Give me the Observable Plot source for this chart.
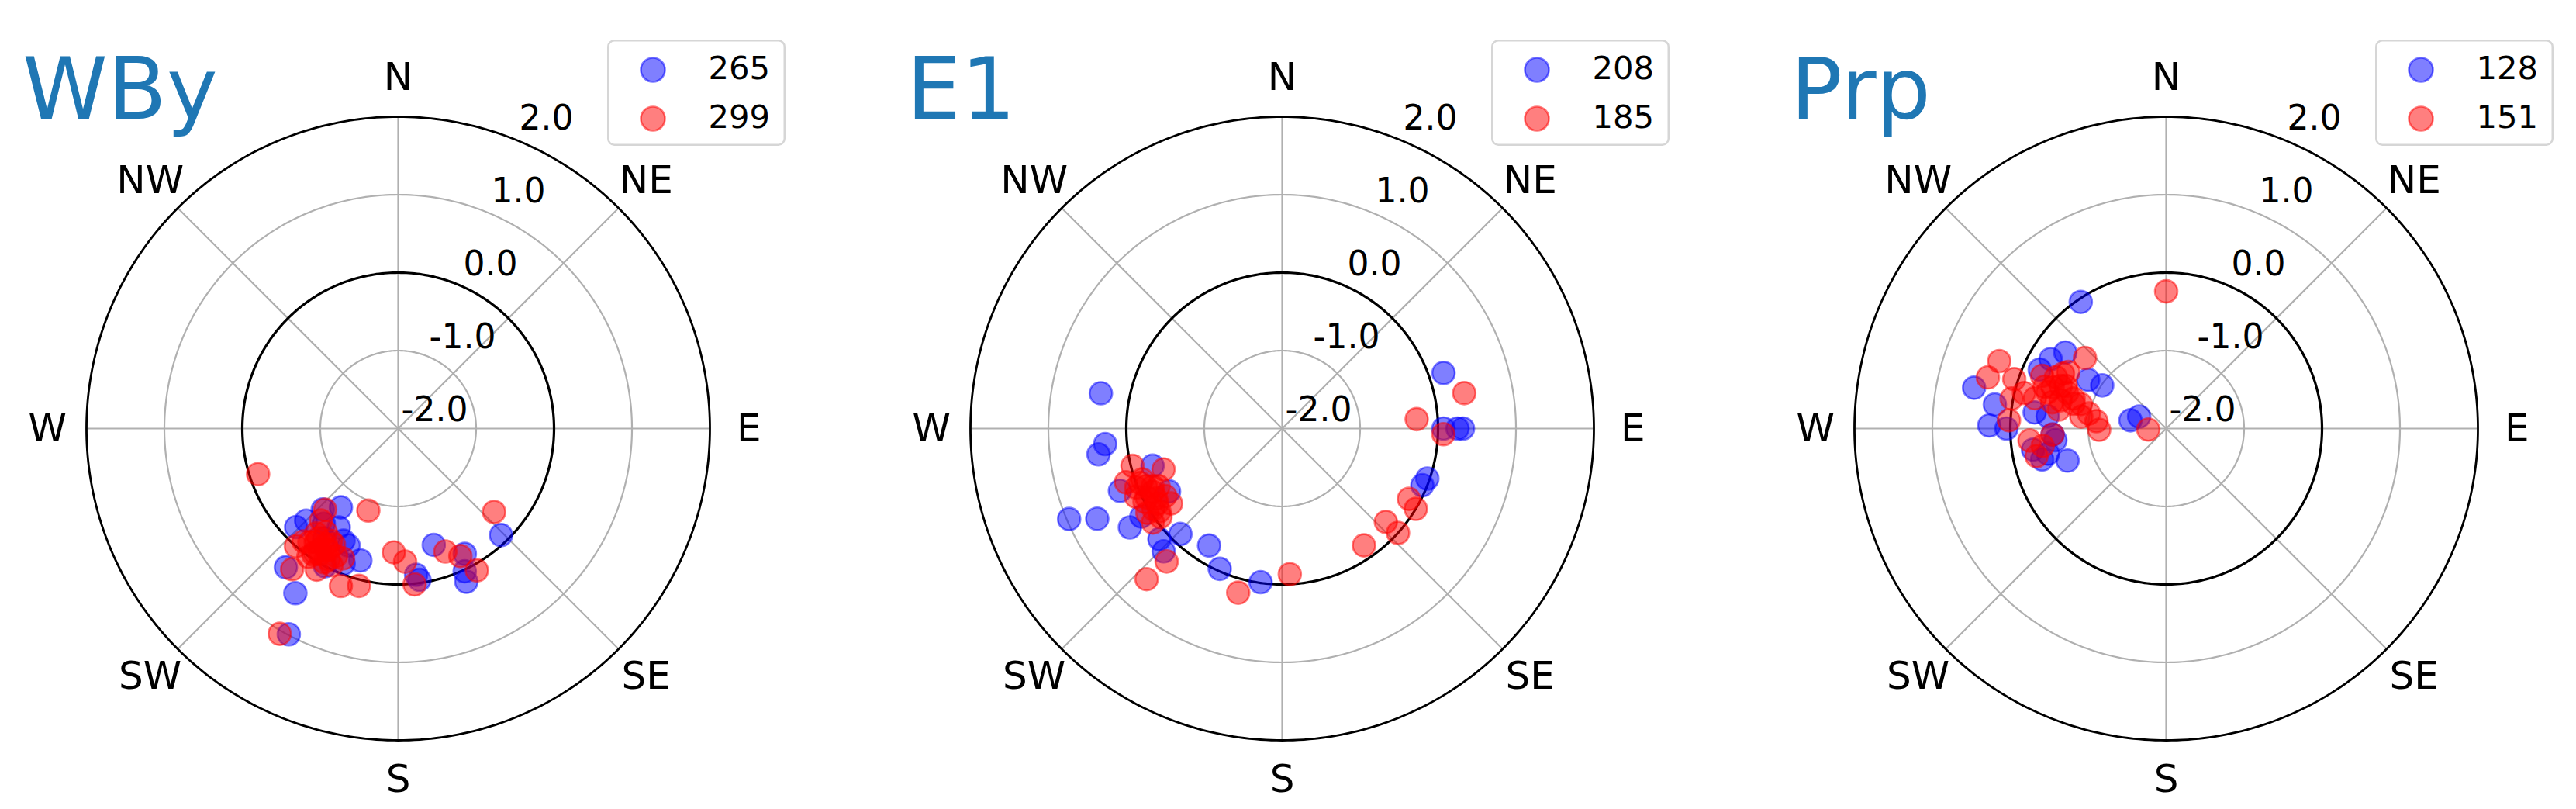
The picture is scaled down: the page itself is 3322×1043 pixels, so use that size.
<!DOCTYPE html>
<html><head><meta charset="utf-8">
<script src="https://cdn.jsdelivr.net/npm/d3@7"></script>
<script src="https://cdn.jsdelivr.net/npm/@observablehq/plot@0.6"></script>
<style>
body{margin:0;background:#fff;}
#root{position:relative;width:3322px;height:1043px;overflow:hidden;font-family:"DejaVu Sans",sans-serif;}
.panel{position:absolute;top:0;width:1026px;height:1043px;}
.panel svg{position:absolute;left:0;top:0;}
</style></head><body><div id="root"></div>
<script>
// ---- data (direction in compass degrees, value on radial axis) ----
const titles = ["WBy", "E1", "Prp"];
const legendBlue = [265, 208, 128];
const legendRed = [299, 185, 151];

const wbyBlueDir = [216,226,225,196,203,219,212,208,163,136,173,172,152,156,155,211,208,202,223,214,206,218];
const wbyBlueVal = [-0.75,-0.18,-0.33,-0.24,-0.37,0.29,0.49,0.99,-0.44,-0.10,-0.11,-0.04,-0.18,0.15,0.02,-0.52,0.00,-0.13,-0.58,-0.30,-0.40,-0.45];
const wbyRedDir = [200,131,182,177,174,159,154,151,200,194,210,217,221,210,220,222,216,211,215,206,203,218,211,220,209,252,213,214,208,212,218,206,215,209,212,216,210,214];
const wbyRedVal = [-0.88,-0.37,-0.41,-0.29,0.01,-0.31,-0.18,0.08,0.15,0.08,1.04,0.26,0.00,0.09,-0.46,-0.60,-0.26,-0.20,0.01,-0.18,-0.19,-0.29,-0.32,-0.11,-0.04,-0.11,-0.15,-0.05,-0.10,-0.25,-0.15,-0.05,-0.38,-0.30,-0.10,-0.20,-0.20,-0.08];

const e1BlueDir = [71,90,90,90,109,112,281,265,262,247,244,237,249,254,228,224,224,212,204,188,238,241];
const e1BlueVal = [0.19,0.07,0.25,0.32,-0.03,-0.06,0.37,0.28,0.38,0.97,0.64,0.33,0.23,-0.27,0.12,0.19,-0.12,-0.23,-0.03,-0.01,0.13,-0.34];
const e1RedDir = [79,86,92,119,121,132,132,145,177,195,222,221,256,251,245,246,239,236,238,234,251,250,240,234,243,247,242,248,241,244,238,249,245,236];
const e1RedVal = [0.38,-0.27,0.07,-0.14,0.00,-0.21,0.00,-0.17,-0.13,0.18,0.60,0.26,-0.02,-0.39,0.07,-0.18,-0.13,-0.28,0.04,-0.07,0.12,-0.09,-0.27,0.05,-0.05,-0.10,0.00,0.02,-0.15,-0.15,-0.05,-0.05,-0.25,-0.10];

const prpBlueDir = [326,307,301,295,302,304,282,278,271,270,276,267,256,264,283,294,277,252,261,258];
const prpBlueVal = [-0.04,-0.38,-0.27,-0.21,-0.82,-1.01,0.52,0.22,0.27,0.05,-0.47,-0.54,-0.36,-0.57,-1.53,-1.62,-0.30,-0.67,-0.27,-0.45];
const prpRedDir = [0,292,286,311,288,281,284,293,295,287,292,285,286,281,276,269,265,267,283,267,273,289,298,300,290,278,262,258,285,283,290,293,288,280];
const prpRedVal = [-0.24,0.31,0.38,-0.62,0.05,0.02,-0.12,-0.27,-0.44,-0.41,-0.54,-0.77,-0.86,-0.99,-1.10,-1.14,-0.24,-0.54,-0.27,-1.77,0.02,-0.35,-0.50,-0.55,-0.65,-0.90,-0.40,-0.30,-0.60,-0.50,-0.45,-0.60,-0.75,-0.60];

// axes
const rTicks = [-2, -1, 0, 1, 2];
const greyRings = [-1, 1];
const zeroRing = [0];
const outerRing = [2];
const compassNames = ["N","NE","E","SE","S","SW","W","NW"];
const compassDirs = [0,45,90,135,180,225,270,315];
const rMin = -2, rMax = 2, rLabel = 2.5, rTickAngle = 21;

// ---- helpers ----
const K = 10; // degrees of arc per radial unit
const lat = v => 90 - K * (v - rMin);
const lon = a => 180 - a;
const pts = (dirs, vals) => dirs.map((d, i) => ({dir: d, val: vals[i]}));
const ringGeom = v => d3.geoCircle().center([0, 90]).radius(K * (v - rMin)).precision(1)();
const compass = compassNames.map((n, i) => ({name: n, dir: compassDirs[i]}));

const panels = [
  {blue: pts(wbyBlueDir, wbyBlueVal), red: pts(wbyRedDir, wbyRedVal)},
  {blue: pts(e1BlueDir, e1BlueVal), red: pts(e1RedDir, e1RedVal)},
  {blue: pts(prpBlueDir, prpBlueVal), red: pts(prpRedDir, prpRedVal)}
];

const root = document.getElementById("root");
const W = 1026, H = 1043;

panels.forEach((p, idx) => {
  const div = document.createElement("div");
  div.className = "panel";
  div.style.left = (idx * 1140) + "px";
  root.appendChild(div);

  const chart = Plot.plot({
    width: W, height: H,
    marginTop: 150, marginBottom: 89, marginLeft: 0, marginRight: 0,
    style: {fontFamily: "DejaVu Sans", background: "transparent"},
    projection: {
      type: "azimuthal-equidistant",
      rotate: [0, -90],
      domain: d3.geoCircle().center([0, 90]).radius(K * (rMax - rMin))(),
      clip: false
    },
    marks: [
      Plot.link(compassDirs, {x1: d => lon(d), y1: lat(rMin), x2: d => lon(d), y2: lat(rMax), stroke: "#b0b0b0", strokeWidth: 2.2}),
      Plot.geo(greyRings, {geometry: ringGeom, fill: "none", stroke: "#b0b0b0", strokeWidth: 2.2}),
      Plot.geo(zeroRing, {geometry: ringGeom, fill: "none", stroke: "black", strokeWidth: 3.2}),
      Plot.dot(p.blue, {x: d => lon(d.dir), y: d => lat(d.val), r: 14.5, fill: "blue", fillOpacity: 0.5, stroke: "blue", strokeOpacity: 0.5, strokeWidth: 2.6}),
      Plot.dot(p.red, {x: d => lon(d.dir), y: d => lat(d.val), r: 14.5, fill: "red", fillOpacity: 0.5, stroke: "red", strokeOpacity: 0.5, strokeWidth: 2.6}),
      Plot.geo(outerRing, {geometry: ringGeom, fill: "none", stroke: "black", strokeWidth: 2.8}),
      Plot.text(rTicks, {x: lon(rTickAngle), y: v => lat(v), text: v => v.toFixed(1), dx: 47, dy: -24, fontSize: 44, fill: "black", fontFamily: "DejaVu Sans"}),
      Plot.text(compass, {x: d => lon(d.dir), y: lat(rLabel), text: "name", fontSize: 50, fill: "black", fontFamily: "DejaVu Sans"})
    ]
  });
  div.appendChild(chart);

  // overlay: title and legend
  const ov = d3.select(div).append("svg")
    .attr("width", W).attr("height", H)
    .style("font-family", "DejaVu Sans");
  ov.append("text").attr("x", 29).attr("y", 153)
    .attr("font-size", 111).attr("fill", "#1f77b4").text(titles[idx]);
  const lg = ov.append("g").attr("transform", "translate(783,51)");
  lg.append("rect").attr("x", 1.25).attr("y", 1.25).attr("width", 227.5).attr("height", 134.5)
    .attr("rx", 8).attr("fill", "white").attr("fill-opacity", 0.8)
    .attr("stroke", "#d6d6d6").attr("stroke-width", 2.5);
  const rows = [{c: "blue", t: legendBlue[idx], y: 39}, {c: "red", t: legendRed[idx], y: 102}];
  rows.forEach(r => {
    lg.append("circle").attr("cx", 59).attr("cy", r.y).attr("r", 15.5)
      .attr("fill", r.c).attr("fill-opacity", 0.5).attr("stroke", r.c).attr("stroke-opacity", 0.5).attr("stroke-width", 2.6);
    lg.append("text").attr("x", 210).attr("y", r.y + 12).attr("text-anchor", "end")
      .attr("font-size", 41.7).attr("fill", "black").text(r.t);
  });
});
</script></body></html>
